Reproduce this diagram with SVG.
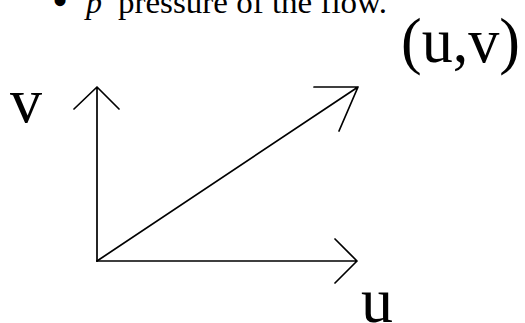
<svg xmlns="http://www.w3.org/2000/svg" width="525" height="323" viewBox="0 0 525 323">
<style>
.t{font-family:"Liberation Serif","DejaVu Serif",serif;fill:#000}
.ln{stroke:#000;stroke-width:1.7;fill:none;stroke-linecap:round;stroke-linejoin:round}
</style>
<rect width="525" height="323" fill="#fff"/>
<g id="caption">
<text class="t" x="52" y="16" font-size="46">•</text>
<text class="t" x="86" y="13" font-size="32" font-style="italic">p</text>
<text class="t" x="118" y="13" font-size="32" textLength="269" lengthAdjust="spacingAndGlyphs">pressure of the flow.</text>
</g>
<g id="connectors">
<path class="ln" d="M97,261 V87 M74,109 L97,87 L119,109"/>
<path class="ln" d="M97,261 H357 M335,239 L357,261 L335,283"/>
<path class="ln" d="M97,261 L358,87 M314,87 H358 L339,131"/>
</g>
<g id="label-v"><text class="t" x="10" y="122" font-size="64">v</text></g>
<g id="label-u"><text class="t" x="361" y="322" font-size="64">u</text></g>
<g id="label-uv"><text class="t" x="401" y="62" font-size="64" textLength="119" lengthAdjust="spacingAndGlyphs">(u,v)</text></g>
</svg>
